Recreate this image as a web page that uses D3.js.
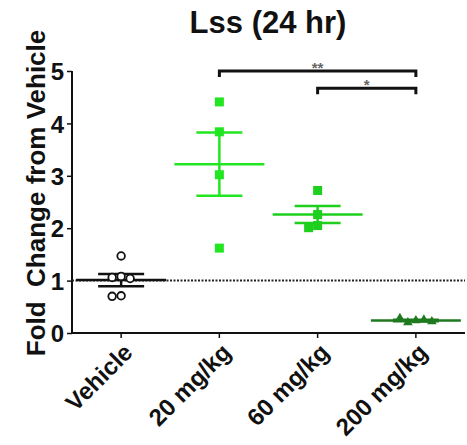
<!DOCTYPE html>
<html><head><meta charset="utf-8">
<script src="https://cdn.jsdelivr.net/npm/d3@7"></script>
<style>body{margin:0;background:#fff;font-family:"Liberation Sans",Arial,sans-serif}</style>
</head><body><svg id="c" width="467" height="445"></svg>
<script>
const categories = ["Vehicle", "20 mg/kg", "60 mg/kg", "200 mg/kg"];
const vehicle = [1.47, 1.08, 1.06, 1.04, 0.71, 0.7];
const mg20 = [4.41, 3.84, 3.02, 1.62];
const mg60 = [2.72, 2.26, 2.05, 2.01];
const mg200 = [0.24, 0.2, 0.25, 0.28, 0.22];
const groupColors = ["#111111", "#22e622", "#1ecf1e", "#1f7a1f"];
const yTicks = [0, 1, 2, 3, 4, 5];
const refLine = 1;
const brackets = [{from: "20 mg/kg", to: "200 mg/kg", label: "**", level: 5.0},
                  {from: "60 mg/kg", to: "200 mg/kg", label: "*", level: 4.67}];
const title = "Lss (24 hr)";
const yLabel = "Fold  Change from Vehicle";

const groups = [vehicle, mg20, mg60, mg200];
const svg = d3.select("#c");
const x = d3.scaleBand().domain(categories).range([72, 465]).padding(0);
const y = d3.scaleLinear().domain([0, 5]).range([333, 71]);
const cx = c => x(c) + x.bandwidth() / 2;

// title
svg.append("text").attr("x", 268).attr("y", 33).attr("text-anchor", "middle")
  .attr("font-size", 31).attr("font-weight", "bold").attr("fill", "#111").text(title);

// y label
svg.append("text").attr("transform", "translate(45,193) rotate(-90)").attr("text-anchor", "middle")
  .attr("font-size", 26).attr("font-weight", "bold").attr("fill", "#111").attr("xml:space","preserve").text(yLabel);

// axes
const yAxis = svg.append("g").attr("transform", "translate(72,0)")
  .call(d3.axisLeft(y).tickValues(yTicks).tickFormat(d3.format("d")).tickSize(5).tickPadding(3));
yAxis.select(".domain").attr("stroke", "#111").attr("stroke-width", 2).attr("d", "M0," + y(5) + "V" + y(0));
yAxis.selectAll(".tick line").attr("stroke", "#111").attr("stroke-width", 1.5);
yAxis.selectAll(".tick text").attr("font-size", 24).attr("font-weight", "bold").attr("fill", "#111")
  .attr("font-family", "Liberation Sans, Arial, sans-serif").attr("dy", "0.36em");

const xAxis = svg.append("g").attr("transform", "translate(0,333)")
  .call(d3.axisBottom(x).tickSize(5).tickSizeOuter(0).tickFormat(""));
xAxis.select(".domain").attr("stroke", "#111").attr("stroke-width", 2).attr("d", "M72,0H465");
xAxis.selectAll(".tick line").attr("stroke", "#111").attr("stroke-width", 1.5);
categories.forEach(c => {
  svg.append("text").attr("transform", `translate(${cx(c) + 7},${348}) rotate(-45)`)
    .attr("text-anchor", "end").attr("font-size", 24).attr("font-weight", "bold").attr("fill", "#111")
    .attr("dy", "0.35em").text(c);
});

// reference dotted line
svg.append("line").attr("x1", 72).attr("x2", 465).attr("y1", y(refLine)).attr("y2", y(refLine))
  .attr("stroke", "#222").attr("stroke-width", 2).attr("stroke-dasharray", "2,1.5");

// groups
const ms = 8;
groups.forEach((vals, gi) => {
  const c = categories[gi], col = groupColors[gi], x0 = cx(c);
  const mean = d3.mean(vals), sem = d3.deviation(vals) / Math.sqrt(vals.length);
  const g = svg.append("g");
  g.append("line").attr("x1", x0 - 45).attr("x2", x0 + 45).attr("y1", y(mean)).attr("y2", y(mean))
    .attr("stroke", col).attr("stroke-width", 2.5);
  g.append("line").attr("x1", x0).attr("x2", x0).attr("y1", y(mean + sem)).attr("y2", y(mean - sem))
    .attr("stroke", col).attr("stroke-width", 2.5);
  [mean + sem, mean - sem].forEach(v => g.append("line").attr("x1", x0 - 23).attr("x2", x0 + 23)
    .attr("y1", y(v)).attr("y2", y(v)).attr("stroke", col).attr("stroke-width", 2.5));
  // beeswarm placement
  const placed = [];
  const step = gi === 3 ? 8 : 9;
  vals.forEach(v => {
    const py = y(v);
    let off = 0;
    for (let k = 0; k < 20; k++) {
      const cand = k === 0 ? 0 : (k % 2 ? -1 : 1) * Math.ceil(k / 2) * step;
      if (!placed.some(p => Math.abs(p.x - cand) < step - 0.5 && Math.abs(p.y - py) < ms)) { off = cand; break; }
    }
    placed.push({x: off, y: py});
  });
  placed.forEach(p => {
    const px = x0 + p.x;
    if (gi === 0) {
      g.append("circle").attr("cx", px).attr("cy", p.y).attr("r", 3.8).attr("fill", "#fff")
        .attr("stroke", col).attr("stroke-width", 1.8);
    } else if (gi === 3) {
      g.append("path").attr("d", d3.symbol(d3.symbolTriangle, 40)()).attr("transform", `translate(${px},${p.y})`)
        .attr("fill", col);
    } else {
      g.append("rect").attr("x", px - 4.5).attr("y", p.y - 4.5).attr("width", 9).attr("height", 9).attr("fill", col);
    }
  });
});

// significance brackets
brackets.forEach(b => {
  const x1 = cx(b.from), x2 = cx(b.to), yy = y(b.level);
  svg.append("path").attr("d", `M${x1},${yy + 6}V${yy}H${x2}V${yy + 6}`).attr("fill", "none")
    .attr("stroke", "#111").attr("stroke-width", 3);
  svg.append("text").attr("x", (x1 + x2) / 2).attr("y", yy + 2).attr("text-anchor", "middle")
    .attr("font-size", 15).attr("font-weight", "bold").attr("fill", "#666").text(b.label);
});
</script></body></html>
